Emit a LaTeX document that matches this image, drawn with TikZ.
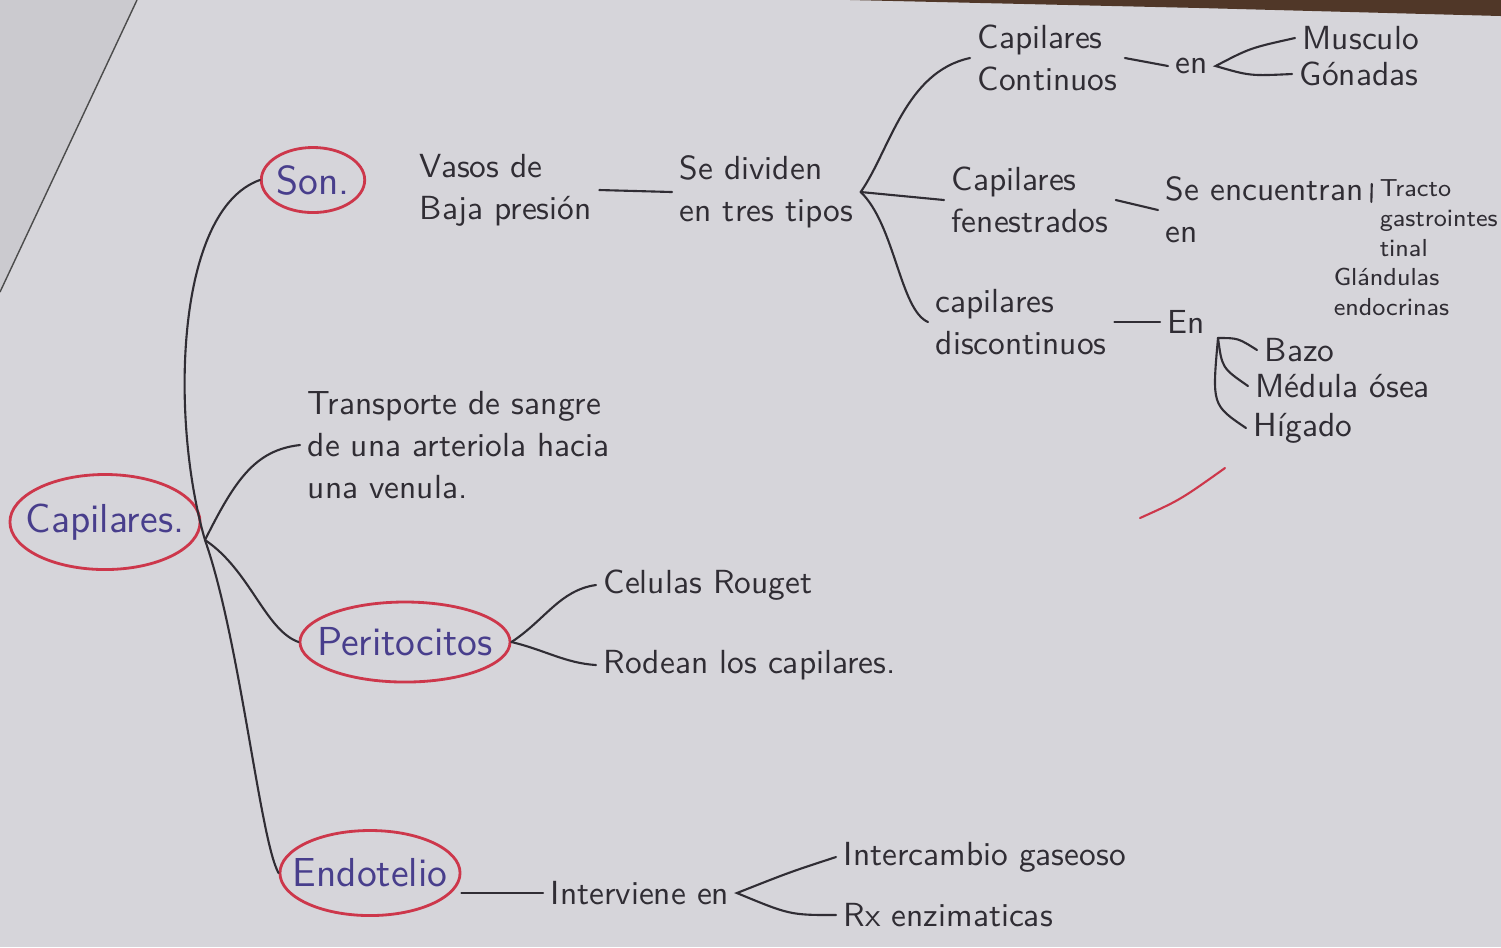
\documentclass[tikz,border=0pt]{standalone}
\usepackage{tikz}
\usetikzlibrary{shapes.geometric}
\definecolor{paper}{RGB}{214,213,218}
\definecolor{backpage}{RGB}{203,202,207}
\definecolor{pencil}{RGB}{48,45,52}
\definecolor{bluink}{RGB}{72,62,140}
\definecolor{redink}{RGB}{205,55,75}
\definecolor{desk}{RGB}{80,55,40}
\tikzset{blob/.style={ellipse, draw=redink, thick, text=bluink, inner xsep=-8pt, inner ysep=0pt, font=\sffamily\fontsize{11.5}{13}\selectfont}}
\tikzset{note/.style={text=pencil, align=left, inner sep=2pt, anchor=west, font=\sffamily\fontsize{9.5}{12}\selectfont}}
\tikzset{small note/.style={note, font=\sffamily\fontsize{7}{8.5}\selectfont}}
\tikzset{link/.style={draw=pencil, semithick, line cap=round}}

\begin{document}
\begin{tikzpicture}[x=0.01cm,y=-0.01cm]
  \useasboundingbox (0,0) rectangle (1501,947);
  \fill[paper] (0,0) rectangle (1501,947);
  \fill[backpage] (0,0) -- (137,0) -- (0,292) -- cycle;
  \draw[black!70, thin] (137,0) -- (0,292);
  \fill[desk] (850,0) -- (1501,0) -- (1501,16) -- (1200,8) -- cycle;

  \node[blob, minimum width=1.9cm, minimum height=0.95cm] (cap) at (105,522) {Capilares.};
  \node[blob, minimum width=0.95cm, minimum height=0.65cm, inner xsep=0pt] (son) at (313,180) {Son.};
  \node[blob, minimum width=2.1cm, minimum height=0.8cm] (peri) at (405,642) {Peritocitos};
  \node[blob, minimum width=1.8cm, minimum height=0.85cm] (endo) at (370,873) {Endotelio};
  \coordinate (hub) at (205,540);

  \foreach \x/\y/\name/\lab in {
    412/190/vasos/{Vasos de\\Baja presión},
    672/192/divid/{Se dividen\\en tres tipos},
    970/58/cont/{Capilares\\Continuos},
    1295/38/musc/{Musculo},
    1292/74/gon/{Gónadas},
    944/200/fenes/{Capilares\\fenestrados},
    1158/210/enc/{Se encuentran\\en},
    928/322/disc/{capilares\\discontinuos},
    1257/350/bazo/{Bazo},
    1248/386/med/{Médula ósea},
    1246/428/hig/{Hígado},
    300/445/transp/{Transporte de sangre\\de una arteriola hacia\\una venula.},
    596/585/cel/{Celulas Rouget},
    596/665/rod/{Rodean los capilares.},
    543/893/interv/{Interviene en},
    836/857/inter/{Intercambio gaseoso},
    836/915/rx/{Rx enzimaticas}%
  } {
    \node[note] (\name) at (\x, \y) {\lab};
  }
  \node[note] (en1) at (1168,66) {en};
  \node[note] (en2) at (1160,322) {En};
  \node[small note, anchor=north west] (tract) at (1372,172) {Tracto\\gastrointes\\tinal};
  \node[small note] (gland) at (1326,292) {Glándulas\\endocrinas};
  \coordinate (fork) at (1218,338);

  \draw[link] (hub) .. controls (170,420) and (175,210) .. (son.west);
  \draw[link] (hub) .. controls (235,480) and (255,450) .. (transp.west);
  \draw[link] (hub) .. controls (250,570) and (265,630) .. (peri.west);
  \draw[link] (hub) .. controls (240,640) and (260,840) .. (endo.west);

  \draw[link] (vasos.east) -- (divid.west);
  \draw[link] (divid.east) .. controls (890,150) and (905,72) .. (cont.west);
  \draw[link] (divid.east) -- (fenes.west);
  \draw[link] (divid.east) .. controls (895,225) and (900,310) .. (disc.west);

  \draw[link] (cont.east) -- (en1.west);
  \draw[link] (musc.west) .. controls (1250,48) .. (en1.east) .. controls (1250,76) .. (gon.west);
  \draw[link] (fenes.east) -- (enc.west);
  \draw[link, shorten <=0.08cm, shorten >=0.12cm] (enc.east) -- (tract.north west);
  \draw[link] (disc.east) -- (en2.west);
  \draw[link] (fork) .. controls (1238,338) .. (bazo.west);
  \draw[link] (fork) .. controls (1222,368) .. (med.west);
  \draw[link] (fork) .. controls (1212,405) .. (hig.west);

  \draw[link] (peri.east) .. controls (545,620) and (560,590) .. (cel.west);
  \draw[link] (peri.east) .. controls (545,650) and (565,663) .. (rod.west);
  \draw[link] (endo.east |- interv) -- (interv.west);
  \draw[link] (inter.west) .. controls (790,872) .. (interv.east) .. controls (790,915) .. (rx.west);

  \draw[redink, semithick, line cap=round] (1140,518) .. controls (1180,500) .. (1225,468);
\end{tikzpicture}
\end{document}
